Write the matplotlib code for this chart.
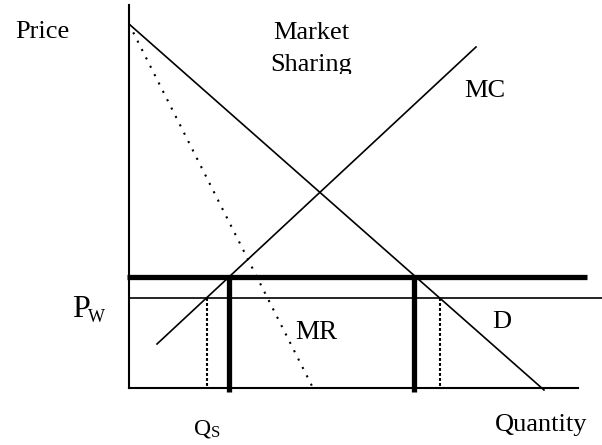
import matplotlib.pyplot as plt
from matplotlib.transforms import Bbox, TransformedBbox

plt.rcParams['font.family'] = ['Liberation Serif', 'DejaVu Serif']

# data units: quantity along x, price along y (origin at the axis corner)
demand_q = [0, 415]
demand_p = [364, -2]
mr_q = [0, 184]
mr_p = [364, 0]
mc_q = [28, 347]
mc_p = [44, 341]
world_price = 90
share_price = 111
q_share = [100, 285]      # thick verticals
q_world = [78, 311]       # dotted verticals
q_max = 449
p_max = 383

fig = plt.figure(figsize=(6.02, 4.45), dpi=100)
ax = fig.add_axes([0, 0, 1, 1])
ax.set_xlim(-129, 473)
ax.set_ylim(-57, 388)
ax.axis('off')

# axes
ax.plot([0, 0], [p_max, 0], color='black', lw=1.5)
ax.plot([0, q_max], [0, 0], color='black', lw=1.5)

ax.plot(demand_q, demand_p, color='black', lw=1.2)
ax.plot(mr_q, mr_p, color='black', lw=1.5, linestyle=(0, (1, 3.5)))
ax.plot(mc_q, mc_p, color='black', lw=1.2)

# price lines
ax.plot([0, 473], [world_price, world_price], color='black', lw=1.2)
ax.plot([-2, 458], [share_price, share_price], color='black', lw=3.8,
        solid_capstyle='butt')

for q in q_share:
    ax.plot([q, q], [share_price, -4], color='black', lw=3.8,
            solid_capstyle='butt')
for q in q_world:
    ax.plot([q, q], [world_price, 0], color='black', lw=1.5,
            linestyle=(0, (1.4, 1.0)))

fs = 19
ax.text(-114, 350, 'Price', fontsize=fs, va='baseline')
ax.text(182, 349, 'Market', fontsize=fs, ha='center', va='baseline')
t = ax.text(182, 317, 'Sharing', fontsize=fs, ha='center', va='baseline',
            clip_on=True)
t.set_clip_box(TransformedBbox(Bbox([[100, 314], [300, 420]]), ax.transData))
ax.text(335, 291, 'MC', fontsize=fs, va='baseline')
ax.text(166, 49, 'MR', fontsize=19.5, va='baseline')
ax.text(363, 60, 'D', fontsize=fs, va='baseline')
ax.text(366, -43, 'Quantity', fontsize=fs, va='baseline')

ax.text(-57, 71, 'P', fontsize=23, va='baseline')
ax.text(-41, 66, 'W', fontsize=13, va='baseline')
ax.text(65, -47, 'Q', fontsize=17, va='baseline')
ax.text(82, -49, 'S', fontsize=12, va='baseline')

fig.savefig('out.png', dpi=100)
